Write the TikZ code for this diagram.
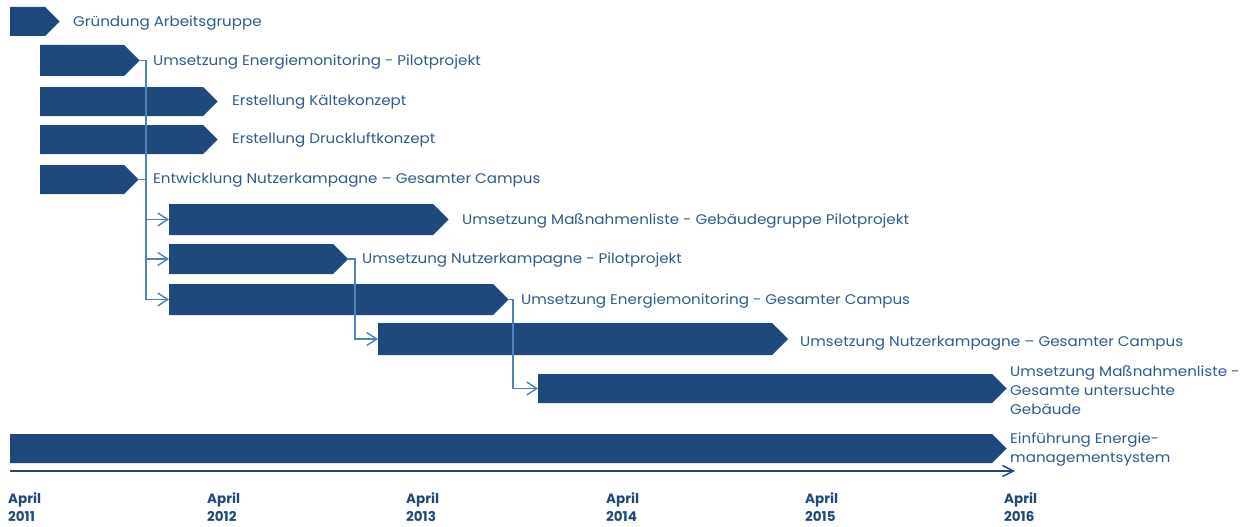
\documentclass[tikz,border=0pt]{standalone}
\usepackage{fontspec}
\setmainfont{Poppins}[FakeStretch=1.08]
\newfontfamily\datefont{Poppins}
\usetikzlibrary{arrows.meta}
\definecolor{barblue}{HTML}{1F497D}
\definecolor{linkblue}{HTML}{4F81BD}
\definecolor{labelblue}{HTML}{2E5A8E}
\definecolor{dateblue}{HTML}{1F497D}
% bar: name, left x, end of body, top y, bottom y
\newcommand\ganttbar[5]{%
  \fill[barblue] (#2,#4) -- (#3,#4) -- ({#3+(#5-#4)/2},{(#4+#5)/2}) -- (#3,#5) -- (#2,#5) -- cycle;
  \coordinate (#1-tip) at ({#3+(#5-#4)/2},{(#4+#5)/2});
  \coordinate (#1-in) at (#2,{(#4+#5)/2});
}
\tikzset{
  label/.style={anchor=west, inner sep=0pt, text=labelblue, align=left,
    font=\fontsize{14}{19}\selectfont},
  datelabel/.style={anchor=west, inner sep=0pt, text=dateblue, align=left,
    font=\datefont\fontsize{13.5}{18}\selectfont\bfseries},
  link/.style={draw=linkblue, line width=1.4pt},
  linkarrow/.style={link, -{Straight Barb[length=10pt,width=13pt]}},
  timeaxis/.style={draw=barblue, line width=1.4pt, -{Straight Barb[length=11pt,width=11pt]}}
}
\begin{document}
\begin{tikzpicture}[x=1pt,y=-1pt]
\useasboundingbox (0,0) rectangle (1242,527);

% task bars
\ganttbar{b1}{10}{45}{7}{36}
\ganttbar{b2}{40}{124}{45}{76}
\ganttbar{b3}{40}{203}{87}{116}
\ganttbar{b4}{40}{203}{125}{154}
\ganttbar{b5}{40}{124}{165}{194}
\ganttbar{b6}{169}{433}{204}{235}
\ganttbar{b7}{169}{333}{244}{274}
\ganttbar{b8}{169}{493}{284}{315}
\ganttbar{b9}{378}{772}{323}{355}
\ganttbar{b10}{538}{992}{374}{403}
\ganttbar{b11}{10}{992}{434}{463}

% dependencies
\coordinate (j1) at (146,60.5);
\coordinate (j2) at (355,259);
\coordinate (j3) at (513,299.5);
\draw[link] (b2-tip) -- (j1);
\draw[link] (b5-tip) -- (j1 |- b5-tip);
\draw[linkarrow] (j1) |- (b8-in);
\draw[linkarrow] (j1 |- b6-in) -- (b6-in);
\draw[linkarrow] (j1 |- b7-in) -- (b7-in);
\draw[linkarrow] (b7-tip) -- (j2) |- (b9-in);
\draw[linkarrow] (b8-tip) -- (j3) |- (b10-in);

% time axis
\coordinate (t0) at (10,471);
\coordinate (t1) at (1015,471);
\draw[timeaxis] (t0) -- (t1);

% task labels
\node[label] (l1) at (73,23) {Gründung Arbeitsgruppe};
\node[label] (l2) at (153,62.5) {Umsetzung Energiemonitoring - Pilotprojekt};
\node[label] (l3) at (232,102) {Erstellung Kältekonzept};
\node[label] (l4) at (232,140) {Erstellung Druckluftkonzept};
\node[label] (l5) at (153,180.5) {Entwicklung Nutzerkampagne – Gesamter Campus};
\node[label] (l6) at (462,220.5) {Umsetzung Maßnahmenliste - Gebäudegruppe Pilotprojekt};
\node[label] (l7) at (362,260) {Umsetzung Nutzerkampagne - Pilotprojekt};
\node[label] (l8) at (521,301) {Umsetzung Energiemonitoring - Gesamter Campus};
\node[label] (l9) at (800,343.5) {Umsetzung Nutzerkampagne – Gesamter Campus};
\node[label] (l10) at (1010,390) {Umsetzung Maßnahmenliste -\\Gesamte untersuchte\\Gebäude};
\node[label] (l11) at (1010,449.5) {Einführung Energie-\\managementsystem};

% year marks
\node[datelabel] (d11) at (8,507.5) {April\\2011};
\node[datelabel] (d12) at (207,507.5) {April\\2012};
\node[datelabel] (d13) at (406,507.5) {April\\2013};
\node[datelabel] (d14) at (606,507.5) {April\\2014};
\node[datelabel] (d15) at (805,507.5) {April\\2015};
\node[datelabel] (d16) at (1004,507.5) {April\\2016};
\end{tikzpicture}
\end{document}
